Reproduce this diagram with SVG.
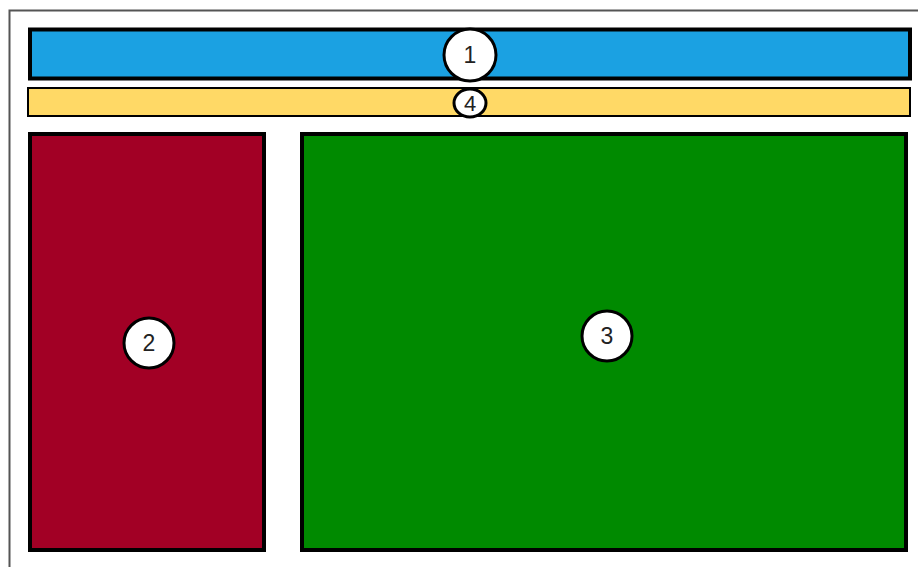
<svg xmlns="http://www.w3.org/2000/svg" width="918" height="567" viewBox="0 0 918 567">
<style>
.lbl{font-family:"Liberation Sans",Arial,sans-serif;font-size:23px;fill:#222;text-anchor:middle;dominant-baseline:central}
.badge{fill:#fff;stroke:#000;stroke-width:3}
.panel{stroke:#000;stroke-width:4}
</style>
<rect width="918" height="567" fill="#fff"/>
<rect x="9.5" y="10.5" width="930" height="580" fill="none" stroke="#555" stroke-width="2"/>
<g id="node1">
<rect class="panel" x="30" y="29.5" width="880" height="49" fill="#1ba1e2"/>
<circle class="badge" cx="470" cy="55" r="26"/>
<text class="lbl" x="470" y="55">1</text>
</g>
<g id="node4">
<rect x="28" y="88" width="882" height="28" fill="#ffd966" stroke="#000" stroke-width="2"/>
<ellipse class="badge" cx="470" cy="103" rx="16" ry="14" stroke-width="2"/>
<text class="lbl" x="470" y="103" style="font-size:22px">4</text>
</g>
<g id="node2">
<rect class="panel" x="30" y="134" width="234" height="416" fill="#a20025"/>
<circle class="badge" cx="149" cy="343" r="25"/>
<text class="lbl" x="149" y="343">2</text>
</g>
<g id="node3">
<rect class="panel" x="302" y="134" width="604" height="416" fill="#008a00"/>
<circle class="badge" cx="607" cy="336" r="25"/>
<text class="lbl" x="607" y="336">3</text>
</g>
<g id="connectors"/>
</svg>
